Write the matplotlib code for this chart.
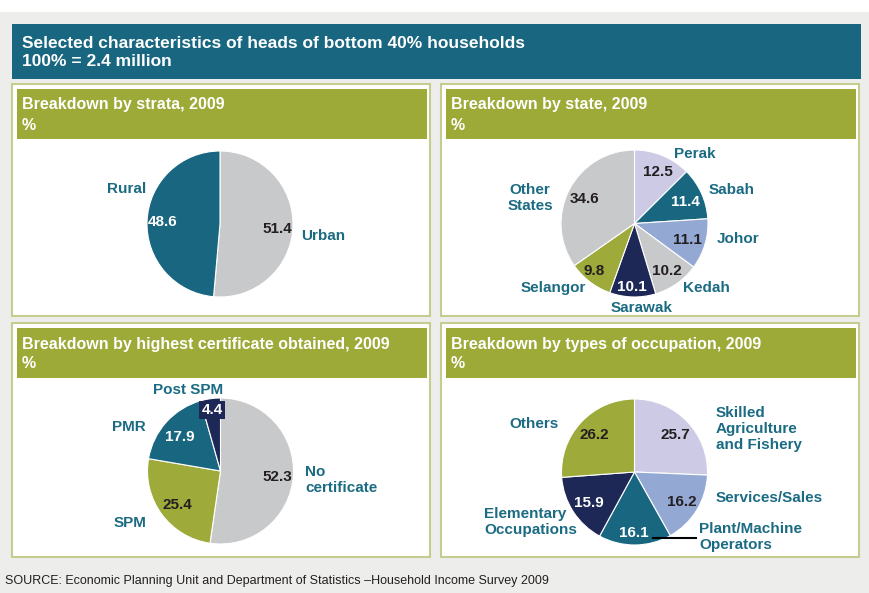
import matplotlib
matplotlib.use("Agg")
import matplotlib.pyplot as plt
from matplotlib.patches import Rectangle
from matplotlib.lines import Line2D

plt.rcParams['font.family'] = ['Liberation Sans', 'DejaVu Sans']

W, H = 869, 593

# ---------------- data ----------------
main_title = "Selected characteristics of heads of bottom 40% households"
main_sub = "100% = 2.4 million"
source = "SOURCE: Economic Planning Unit and Department of Statistics \u2013Household Income Survey 2009"

strata_title = "Breakdown by strata, 2009"
strata_labels = ["Urban", "Rural"]
strata_values = [51.4, 48.6]

state_title = "Breakdown by state, 2009"
state_labels = ["Perak", "Sabah", "Johor", "Kedah", "Sarawak", "Selangor", "Other\nStates"]
state_values = [12.5, 11.4, 11.1, 10.2, 10.1, 9.8, 34.6]

cert_title = "Breakdown by highest certificate obtained, 2009"
cert_labels = ["No\ncertificate", "SPM", "PMR", "Post SPM"]
cert_values = [52.3, 25.4, 17.9, 4.4]

occ_title = "Breakdown by types of occupation, 2009"
occ_labels = ["Skilled\nAgriculture\nand Fishery", "Services/Sales", "Plant/Machine\nOperators",
              "Elementary\nOccupations", "Others"]
occ_values = [25.7, 16.2, 16.1, 15.9, 26.2]

# ---------------- style ----------------
TEAL = "#18667F"
GRAY = "#C8C9CB"
OLIVE = "#9EAA3A"
NAVY = "#1E2857"
LAV = "#CCCAE4"
LBLUE = "#94A8D4"
HEAD_OLIVE = "#9DAA38"
LABEL = "#1B6B83"
DARK = "#231F20"
BORDER = "#C6CC8E"
BG = "#EDEEEC"

fig = plt.figure(figsize=(W / 100, H / 100), dpi=100)
fig.patch.set_facecolor("white")


def fx(x):
    return x / W


def fy(y):
    return 1 - y / H


def rect(x0, y0, x1, y1, fc, ec="none", lw=0, z=-10):
    r = Rectangle((fx(x0), fy(y1)), (x1 - x0) / W, (y1 - y0) / H, transform=fig.transFigure,
                  facecolor=fc, edgecolor=ec, linewidth=lw, zorder=z)
    fig.add_artist(r)


def txt(x, y, s, color=DARK, size=10.5, ha="center", va="center", bold=True, **kw):
    fig.text(fx(x), fy(y), s, color=color, fontsize=size, ha=ha, va=va,
             fontweight="bold" if bold else "normal", linespacing=1.15, **kw)


# background
rect(0, 12, W, H, BG, z=-20)
rect(12, 24, 861, 79, TEAL)
txt(22, 43, main_title, color="white", size=12.5, ha="left")
txt(22, 61, main_sub, color="white", size=12.5, ha="left")

panels = [
    (12, 84, 430, 316, strata_title),
    (441, 84, 859, 316, state_title),
    (12, 323, 430, 557, cert_title),
    (441, 323, 859, 557, occ_title),
]
for (x0, y0, x1, y1, t) in panels:
    rect(x0, y0, x1, y1, "white", ec=BORDER, lw=1.5, z=-9)
    rect(x0 + 5, y0 + 5, x1 - 3, y0 + 55, HEAD_OLIVE, z=-8)
    txt(x0 + 10, y0 + 21, t, color="white", size=11.5, ha="left")
    txt(x0 + 10, y0 + 41, "%", color="white", size=11.5, ha="left")

txt(5, 581, source, color=DARK, size=9, ha="left", bold=False)


def pie(cx, cy, r, values, colors):
    ax = fig.add_axes([(cx - r) / W, 1 - (cy + r) / H, 2 * r / W, 2 * r / H])
    ax.pie(values, colors=colors, startangle=90, counterclock=False, radius=1,
           wedgeprops=dict(edgecolor="white", linewidth=0.8))
    ax.set_xlim(-1, 1)
    ax.set_ylim(-1, 1)
    ax.set_aspect("equal")
    ax.axis("off")
    return ax


# ---- strata ----
pie(220, 224, 73, strata_values, [GRAY, TEAL])
val_pos = [(277, 229), (163, 222)]
val_col = [DARK, "white"]
lab_pos = [(323, 236), (127, 189)]
for v, p, c in zip(strata_values, val_pos, val_col):
    txt(p[0], p[1], f"{v:.1f}", color=c, size=11)
for l, p in zip(strata_labels, lab_pos):
    txt(p[0], p[1], l, color=LABEL, size=11)

# ---- state ----
pie(634.5, 223.5, 73.5, state_values, [LAV, TEAL, LBLUE, GRAY, NAVY, OLIVE, GRAY])
val_pos = [(658, 172), (685, 202), (687, 240), (667, 271), (632, 287), (594, 271), (585, 199)]
val_col = [DARK, "white", DARK, DARK, "white", DARK, DARK]
lab_pos = [(695, 154), (732, 190), (738, 239), (706, 288), (642, 308), (553, 288), (530, 198)]
for v, p, c in zip(state_values, val_pos, val_col):
    txt(p[0], p[1], f"{v:.1f}", color=c, size=11)
for l, p in zip(state_labels, lab_pos):
    txt(p[0], p[1], l, color=LABEL, size=11)

# ---- certificate ----
pie(220.5, 471, 73, cert_values, [GRAY, OLIVE, TEAL, NAVY])
val_pos = [(277, 477), (177, 505), (180, 437), (212, 410)]
val_col = [DARK, DARK, "white", "white"]
lab_pos = [(305, 480, "left"), (130, 523, "center"), (129, 427, "center"), (188, 390, "center")]
for i, (v, p, c) in enumerate(zip(cert_values, val_pos, val_col)):
    if i == 3:
        fig.text(fx(p[0]), fy(p[1]), f"{v:.1f}", color=c, fontsize=11, fontweight="bold",
                 ha="center", va="center",
                 bbox=dict(boxstyle="square,pad=0.15", fc=NAVY, ec="none"))
    else:
        txt(p[0], p[1], f"{v:.1f}", color=c, size=11)
for l, p in zip(cert_labels, lab_pos):
    txt(p[0], p[1], l, color=LABEL, size=11, ha=p[2])

# ---- occupation ----
pie(634.5, 472, 73, occ_values, [LAV, LBLUE, TEAL, NAVY, OLIVE])
val_pos = [(675, 435), (682, 502), (634, 533), (589, 503), (594, 435)]
val_col = [DARK, DARK, "white", "white", DARK]
lab_pos = [(716, 429, "left"), (716, 498, "left"), (699, 537, "left"), (484, 522, "left"), (534, 424, "center")]
for v, p, c in zip(occ_values, val_pos, val_col):
    txt(p[0], p[1], f"{v:.1f}", color=c, size=11)
for l, p in zip(occ_labels, lab_pos):
    txt(p[0], p[1], l, color=LABEL, size=11, ha=p[2])
fig.add_artist(Line2D([fx(653), fx(696)], [fy(538), fy(538)], color="black", lw=1.5,
                      transform=fig.transFigure, zorder=5))

fig.savefig("out.png", dpi=100, facecolor=fig.get_facecolor())
